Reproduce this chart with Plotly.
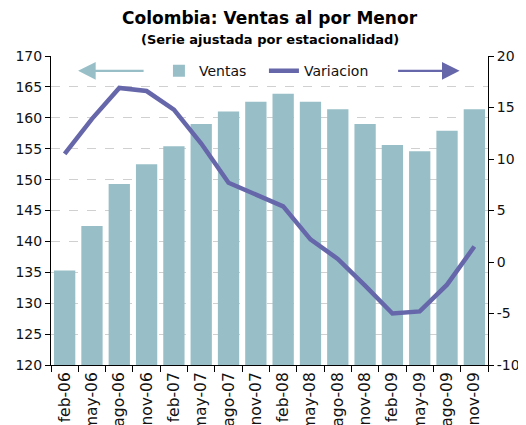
import plotly.graph_objs as go

periodos = ['feb-06', 'may-06', 'ago-06', 'nov-06', 'feb-07', 'may-07', 'ago-07', 'nov-07',
            'feb-08', 'may-08', 'ago-08', 'nov-08', 'feb-09', 'may-09', 'ago-09', 'nov-09']
ventas = [135.3, 142.5, 149.3, 152.5, 155.4, 159.0, 161.0, 162.6,
          163.9, 162.6, 161.4, 159.0, 155.6, 154.6, 157.9, 161.4]
variacion = [10.5, 13.9, 16.9, 16.6, 14.8, 11.5, 7.7, 6.6,
             5.4, 2.2, 0.3, -2.3, -5.0, -4.8, -2.2, 1.5]
ticks_der = [-10, -5, 0, 5, 10, 15, 20]
ticks_der_txt = ['-10', '-5', '0', '5', '10', '15', '20']

bar_color = '#98BFC8'
line_color = '#6666AA'
font = 'DejaVu Sans, Verdana, sans-serif'

fig = go.Figure()
fig.add_trace(go.Bar(
    x=periodos, y=ventas, name='Ventas',
    marker=dict(color=bar_color, line=dict(width=0)),
))
fig.add_trace(go.Scatter(
    x=periodos, y=variacion, name='Variacion', yaxis='y2',
    mode='lines', line=dict(color=line_color, width=4.5),
))

# page body adds an 8px offset, so the figure is sized to end at the window edge
fig.update_layout(
    width=518, height=417,
    margin=dict(l=43, r=38, t=48, b=60),
    paper_bgcolor='white', plot_bgcolor='white',
    font=dict(family=font, size=13, color='#111111'),
    bargap=0.22,
    showlegend=True,
    legend=dict(
        orientation='h', x=0.247, xanchor='left', y=0.951, yanchor='middle',
        bgcolor='rgba(0,0,0,0)', font=dict(size=14),
        entrywidth=60, entrywidthmode='pixels',
    ),
    xaxis=dict(
        type='category', tickangle=-90, tickson='boundaries',
        ticks='outside', ticklen=6, tickcolor='#000', tickfont=dict(size=15.5),
        showline=True, linecolor='#000', linewidth=1, showgrid=False,
        range=[-0.5, len(periodos) - 0.5], automargin=False,
    ),
    yaxis=dict(
        range=[120, 170], dtick=5, ticks='outside', ticklen=5, tickcolor='#000',
        showline=True, linecolor='#000', linewidth=1,
        showgrid=True, gridcolor='#D0D0D0', griddash='dash', gridwidth=1,
        tickfont=dict(size=14), zeroline=False, automargin=False,
    ),
    yaxis2=dict(
        range=[-10, 20], tickvals=ticks_der, ticktext=ticks_der_txt,
        overlaying='y', side='right',
        ticks='outside', ticklen=5, tickcolor='#000',
        showline=True, linecolor='#000', linewidth=1, showgrid=False,
        tickfont=dict(size=14), zeroline=False, automargin=False,
    ),
)

fig.add_annotation(
    x=0.5, y=1.123, xref='paper', yref='paper', yanchor='middle', showarrow=False,
    text='<b>Colombia: Ventas al por Menor</b>', font=dict(size=17, color='#000'),
)
fig.add_annotation(
    x=0.5, y=1.052, xref='paper', yref='paper', yanchor='middle', showarrow=False,
    text='<b>(Serie ajustada por estacionalidad)</b>', font=dict(size=13, color='#000'),
)

fig.add_annotation(
    x=0.062, y=0.952, xref='paper', yref='paper',
    ax=67, ay=0, axref='pixel', ayref='pixel', text='',
    showarrow=True, arrowhead=2, arrowsize=1.6, arrowwidth=2.2, arrowcolor=bar_color,
)
fig.add_annotation(
    x=0.935, y=0.952, xref='paper', yref='paper',
    ax=-63, ay=0, axref='pixel', ayref='pixel', text='',
    showarrow=True, arrowhead=2, arrowsize=1.6, arrowwidth=2.2, arrowcolor=line_color,
)

fig.write_html('out.html')
